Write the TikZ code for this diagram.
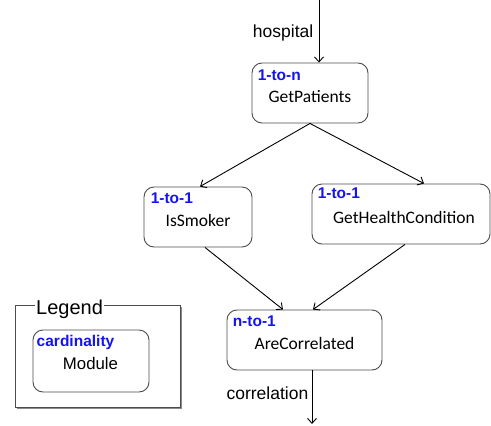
\documentclass[tikz,border=0pt]{standalone}
\usepackage{fontspec}
\setmainfont{Liberation Sans}
\newfontfamily\calfont{Carlito}
\usetikzlibrary{arrows.meta}
\begin{document}
\begin{tikzpicture}[x=1pt,y=-1pt,
 modbox/.style={draw=black!70, line width=0.9pt, rounded corners=10pt, inner sep=0pt},
 card/.style={anchor=west, text={rgb,255:red,20;green,20;blue,240}, font=\fontsize{15.5}{16}\selectfont\bfseries, inner sep=0pt},
 modname/.style={font=\calfont\fontsize{17.5}{18}\selectfont, inner sep=0pt},
 flow/.style={draw=black, line width=0.9pt, -{Straight Barb[length=5pt,width=9pt]}},
 lbl/.style={font=\fontsize{17.5}{18}\selectfont, inner sep=0pt, anchor=east}]
\useasboundingbox (0,0) rectangle (491,426);
% modules
\node[modbox, minimum width=116pt, minimum height=60pt] (gp) at (310,93) {};
\node[modbox, minimum width=108pt, minimum height=60pt] (is) at (198,217) {};
\node[modbox, minimum width=178pt, minimum height=60pt] (ghc) at (401,214) {};
\node[modbox, minimum width=155pt, minimum height=60pt] (ac) at (304.5,340) {};
% texts
\node[card] (gpc) at ([xshift=6pt,yshift=-13pt]gp.north west) {1-to-n};
\node[modname] (gpt) at ([yshift=-4pt]gp.center) {GetPatients};
\node[card] (isc) at ([xshift=7pt,yshift=-12pt]is.north west) {1-to-1};
\node[modname] (ist) at ([yshift=-3pt]is.center) {IsSmoker};
\node[card] (ghcc) at ([xshift=6pt,yshift=-10pt]ghc.north west) {1-to-1};
\node[modname] (ghct) at ([xshift=3pt,yshift=-3pt]ghc.center) {GetHealthCondition};
\node[card] (acc) at ([xshift=6pt,yshift=-12pt]ac.north west) {n-to-1};
\node[modname] (act) at ([yshift=-3pt]ac.center) {AreCorrelated};
% connectors
\coordinate (hin) at (319,0);
\coordinate (cout) at (312,424);
\draw[flow] (hin) -- ([xshift=9pt]gp.north);
\draw[flow] (gp.south) -- ([xshift=2pt]is.north);
\draw[flow] (gp.south) -- ([xshift=23pt]ghc.north);
\draw[flow] ([xshift=7pt]is.south) -- ([xshift=-21.5pt]ac.north);
\draw[flow] ([xshift=4pt]ghc.south) -- ([xshift=8.5pt]ac.north);
\draw[flow] ([xshift=7.5pt]ac.south) -- (cout);
\node[lbl] (hl) at (313.5,32.5) {hospital};
\node[lbl] (cl) at (308.5,393.5) {correlation};
% legend
\fill[black!45] (17,307) rectangle (182,409);
\node[draw=black!70, fill=white, line width=0.9pt, minimum width=165pt, minimum height=102pt, inner sep=0pt] (leg) at (97.5,356) {};
\node[fill=white, inner sep=1pt, anchor=west, font=\fontsize{20}{22}\selectfont] (legt) at (35,309) {Legend};
\node[modbox, minimum width=116pt, minimum height=62pt] (lm) at (91,361) {};
\node[card] (lmc) at ([xshift=4pt,yshift=-13pt]lm.north west) {cardinality};
\node[font=\fontsize{16.8}{18}\selectfont, inner sep=0pt] (lmt) at (90.5,363.5) {Module};
\end{tikzpicture}
\end{document}
